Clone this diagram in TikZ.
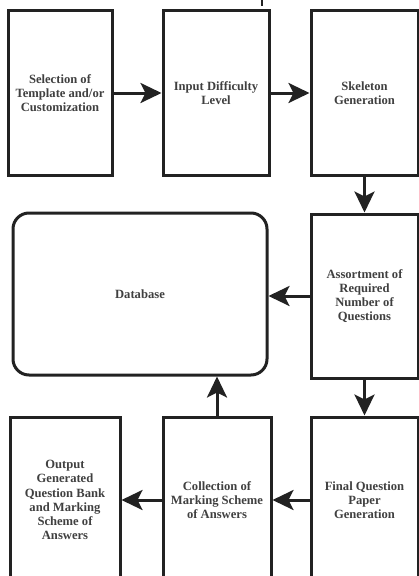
\documentclass[tikz,border=0pt]{standalone}
\usepackage{fontspec}
\setmainfont{Liberation Serif}
\usetikzlibrary{arrows.meta}
\definecolor{ink}{HTML}{222222}
\definecolor{txt}{HTML}{404040}
\tikzset{
  procbox/.style={draw=ink, line width=3pt, fill=white, minimum width=#1, minimum height=165pt,
    inner sep=1pt, align=center, font=\bfseries\fontsize{12.6}{14.2}\selectfont, text=txt},
  procbox/.default=106pt,
  dbbox/.style={draw=ink, line width=3pt, rounded corners=16pt, minimum width=254pt, minimum height=162pt,
    align=center, font=\bfseries\fontsize{12.6}{14.2}\selectfont, text=txt},
  flow/.style={draw=ink, line width=3pt, -{Stealth[length=21pt, width=20pt, inset=5pt]}}
}
\begin{document}
\begin{tikzpicture}[x=1pt, y=-1pt]
  \useasboundingbox (0,0) rectangle (419,576);
  \fill[white] (0,0) rectangle (419,576);

  % top row
  \node[procbox=104pt] (sel) at (60,93) {Selection of\\Template and/or\\Customization};
  \node[procbox=106pt] (diff) at (216,93) {Input Difficulty\\Level};
  \node[procbox=107pt] (skel) at (364.5,93) {Skeleton\\Generation};

  % middle row
  \node[dbbox] (db) at (140,294) {Database};
  \node[procbox=107pt, minimum height=164pt] (assort) at (364.5,296) {Assortment of\\Required\\Number of\\Questions};

  % bottom row (boxes run past the lower edge)
  \node[procbox=110pt, minimum height=166pt] (out) at (65,500) {Output\\Generated\\Question Bank\\and Marking\\Scheme of\\Answers};
  \node[procbox=108pt, minimum height=166pt] (coll) at (217,500) {Collection of\\Marking Scheme\\of Answers};
  \node[procbox=107pt, minimum height=166pt] (final) at (364.5,500) {Final Question\\Paper\\Generation};

  % connectors
  \draw[flow] (sel.east) -- (diff.west);
  \draw[flow] (diff.east) -- (skel.west);
  \draw[flow] (skel.south) -- (assort.north);
  \draw[flow] (assort.west) -- (db.east |- assort.west);
  \draw[flow] (assort.south) -- (final.north);
  \draw[flow] (final.west |- coll.east) -- (coll.east);
  \draw[flow] (coll.west) -- (out.east);
  \draw[flow] (coll.north) -- (db.south -| coll.north);

  % small mark at the upper edge
  \coordinate (tickA) at (262,0);
  \coordinate (tickB) at (262,6);
  \draw[ink, line width=1.6pt] (tickA) -- (tickB);
\end{tikzpicture}
\end{document}
